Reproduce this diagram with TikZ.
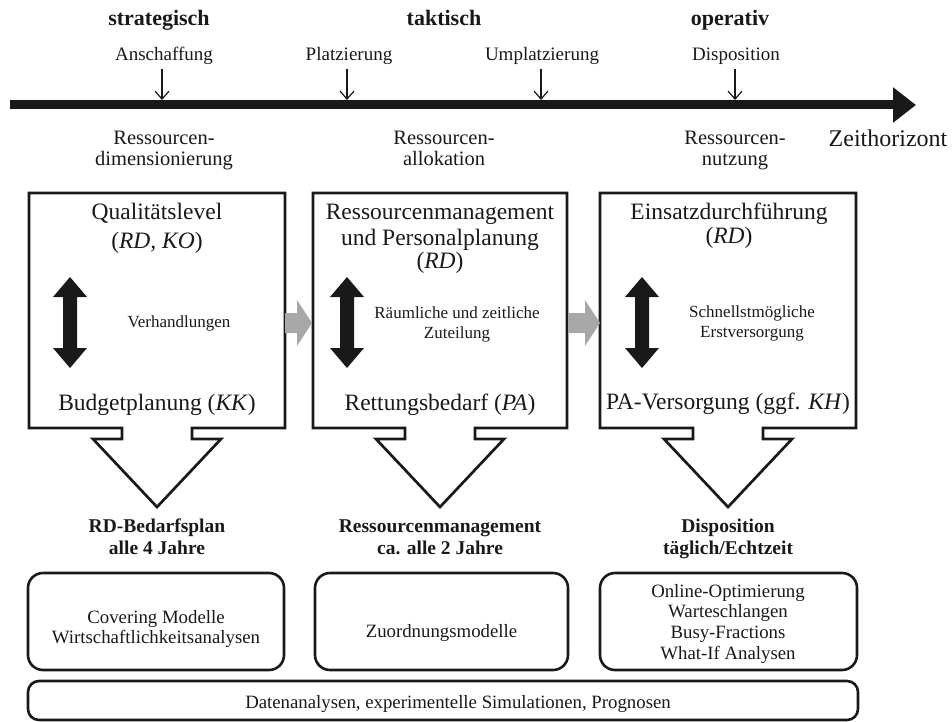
\documentclass[tikz,border=0pt]{standalone}
\usepackage{fontspec}
\setmainfont{Liberation Serif}
\usetikzlibrary{arrows.meta}
\definecolor{arrgrey}{gray}{0.66}
\definecolor{ink}{gray}{0.1}
\tikzset{
  tx/.style={inner sep=0pt, anchor=base, text=ink},
  hdr/.style={tx, font=\fontsize{22}{24}\selectfont\bfseries},
  tmark/.style={tx, font=\fontsize{19}{21}\selectfont},
  tlab/.style={tx, font=\fontsize{20.5}{22}\selectfont},
  zlab/.style={tx, font=\fontsize{24}{26}\selectfont},
  ttl/.style={tx, font=\fontsize{23.5}{26}\selectfont},
  inn/.style={tx, font=\fontsize{17}{19}\selectfont},
  blab/.style={tx, font=\fontsize{19.5}{21}\selectfont\bfseries},
  btxt/.style={tx, font=\fontsize{18.8}{21}\selectfont},
  tick/.style={draw=ink, line width=1.2pt, -{Straight Barb[length=8pt,width=14pt]}},
  boxline/.style={draw=ink, line width=2.7pt, line join=miter},
  rbox/.style={draw=ink, line width=2.6pt, rounded corners=15pt, inner sep=0pt},
  greyarr/.style={fill=arrgrey, draw=none},
  dbl/.pic={\fill[ink] (0,-45.5) -- (17,-25.5) -- (7,-25.5) -- (7,25.5) -- (17,25.5)
     -- (0,45.5) -- (-17,25.5) -- (-7,25.5) -- (-7,-25.5) -- (-17,-25.5) -- cycle;}
}
\begin{document}
\begin{tikzpicture}[x=1pt,y=-1pt]
\useasboundingbox (0,0) rectangle (952,722);

% --- time axis ---
\coordinate (tl0) at (10,105);
\coordinate (tl1) at (916,105);
\draw[ink, line width=9pt, -{Triangle[length=23pt,width=34pt]}] (tl0) -- (tl1);
\node[zlab] (zeit) at (888,147) {Zeithorizont};

% --- horizon headers ---
\node[hdr] (hs) at (159,26) {strategisch};
\node[hdr] (ht) at (444,26) {taktisch};
\node[hdr] (ho) at (730,26) {operativ};

% --- decision marks ---
\node[tmark] (m1) at (164,61) {Anschaffung};
\node[tmark] (m2) at (349,61) {Platzierung};
\node[tmark] (m3) at (542,61) {Umplatzierung};
\node[tmark] (m4) at (736,61) {Disposition};
\coordinate (m1a) at (162,69); \coordinate (m1b) at (162,100);
\coordinate (m2a) at (347,69); \coordinate (m2b) at (347,100);
\coordinate (m3a) at (541,69); \coordinate (m3b) at (541,100);
\coordinate (m4a) at (735,69); \coordinate (m4b) at (735,100);
\draw[tick] (m1a) -- (m1b);
\draw[tick] (m2a) -- (m2b);
\draw[tick] (m3a) -- (m3b);
\draw[tick] (m4a) -- (m4b);

% --- resource phases ---
\node[tlab] (r1a) at (164,145) {Ressourcen-};
\node[tlab] (r1b) at (164,165) {dimensionierung};
\node[tlab] (r2a) at (444,145) {Ressourcen-};
\node[tlab] (r2b) at (444,165) {allokation};
\node[tlab] (r3a) at (735,145) {Ressourcen-};
\node[tlab] (r3b) at (735,165) {nutzung};

% --- boxes with block arrows ---
\draw[boxline] (29,193) -- (285,193) -- (285,428) -- (192,428) -- (192,439) -- (221,439)
  -- (157,507) -- (93,439) -- (122,439) -- (122,428) -- (29,428) -- cycle;
\draw[boxline] (313,193) -- (567,193) -- (567,428) -- (475,428) -- (475,439) -- (504,439)
  -- (440,507) -- (376,439) -- (405,439) -- (405,428) -- (313,428) -- cycle;
\draw[boxline] (600,193) -- (856,193) -- (856,428) -- (763,428) -- (763,439) -- (792,439)
  -- (728,507) -- (664,439) -- (693,439) -- (693,428) -- (600,428) -- cycle;
\coordinate (b1e) at (285,323);
\coordinate (b2w) at (313,323);
\coordinate (b2e) at (567,323);
\coordinate (b3w) at (600,323);

% grey arrows between boxes
\fill[greyarr] (b1e) ++(0,-10) -- (297,313) -- (297,300) -- (312,323) -- (297,346)
  -- (297,333) -- (285,333) -- cycle;
\fill[greyarr] (b2e) ++(1,-10) -- (585,313) -- (585,300) -- (600,323) -- (585,346)
  -- (585,333) -- (568,333) -- cycle;

% box 1
\node[ttl] (q1) at (157,219) {Qualitätslevel};
\node[ttl] (q2) at (157,248) {(\textit{RD, KO})};
\pic at (70,322.5) {dbl};
\node[inn] (q3) at (179,327) {Verhandlungen};
\node[ttl] (q4) at (157,410) {Budgetplanung (\textit{KK})};

% box 2
\node[ttl] (p1) at (440,219) {Ressourcenmanagement};
\node[ttl] (p2) at (440,245) {und Personalplanung};
\node[ttl] (p3) at (440,268) {(\textit{RD})};
\pic at (347,322.5) {dbl};
\node[inn] (p4) at (457,318) {Räumliche und zeitliche};
\node[inn] (p5) at (457,338) {Zuteilung};
\node[ttl] (p6) at (440,410) {Rettungsbedarf (\textit{PA})};

% box 3
\node[ttl] (e1) at (729,219) {Einsatzdurchführung};
\node[ttl] (e2) at (729,243) {(\textit{RD})};
\pic at (642,322.5) {dbl};
\node[inn] (e3) at (752,317) {Schnellstmögliche};
\node[inn] (e4) at (752,337) {Erstversorgung};
\node[ttl] (e5) at (728,409) {PA-Versorgung (ggf. \textit{KH})};

% --- outputs ---
\node[blab] (o1) at (157,532) {RD-Bedarfsplan};
\node[blab] (o2) at (157,554) {alle 4 Jahre};
\node[blab] (o3) at (440,532) {Ressourcenmanagement};
\node[blab] (o4) at (440,554) {ca. alle 2 Jahre};
\node[blab] (o5) at (728,532) {Disposition};
\node[blab] (o6) at (728,554) {täglich/Echtzeit};

% --- model boxes ---
\node[rbox, minimum width=256pt, minimum height=97pt] (ma) at (156,621.5) {};
\node[rbox, minimum width=253pt, minimum height=97pt] (mb) at (441.5,621.5) {};
\node[rbox, minimum width=257pt, minimum height=97pt] (mc) at (728.5,621.5) {};
\node[rbox, rounded corners=11pt, minimum width=830pt, minimum height=39pt] (md) at (443,700.5) {};

\node[btxt] (ta1) at (156,623) {Covering Modelle};
\node[btxt] (ta2) at (156,643) {Wirtschaftlichkeitsanalysen};
\node[btxt] (tb1) at (441.5,637) {Zuordnungsmodelle};
\node[btxt] (tc1) at (728,597) {Online-Optimierung};
\node[btxt] (tc2) at (728,617) {Warteschlangen};
\node[btxt] (tc3) at (728,638) {Busy-Fractions};
\node[btxt] (tc4) at (728,659) {What-If Analysen};
\node[btxt] (td1) at (458,708) {Datenanalysen, experimentelle Simulationen, Prognosen};
\end{tikzpicture}
\end{document}
